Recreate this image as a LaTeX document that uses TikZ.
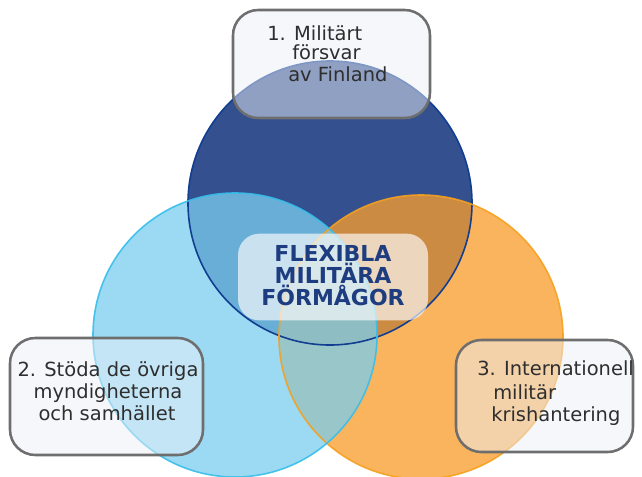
\documentclass[tikz,border=0pt]{standalone}
\usepackage{fontspec}
\setmainfont{DejaVu Sans}
\begin{document}
\begin{tikzpicture}[x=0.75pt,y=-0.75pt,
  circ/.style={circle,minimum size=213pt,inner sep=0pt},
  rim/.style={circle,minimum size=213pt,inner sep=0pt,line width=1.2pt},
  lbl/.style={font=\fontsize{14.6}{17}\selectfont,text=black!82,inner sep=0pt,anchor=base west},
  cbox/.style={draw=black!57,line width=1.9pt,rounded corners=19pt,fill=boxf,fill opacity=0.5},
  ctext/.style={font=\bfseries\fontsize{16.5}{19}\selectfont,text=ctr,inner sep=0pt,anchor=base}]
\definecolor{dblue}{RGB}{52,80,143}
\definecolor{dblueb}{RGB}{18,62,145}
\definecolor{lblue}{RGB}{122,206,238}
\definecolor{lblueb}{RGB}{55,190,235}
\definecolor{orng}{RGB}{249,158,45}
\definecolor{orngb}{RGB}{246,160,30}
\definecolor{ctr}{RGB}{30,60,128}
\definecolor{boxf}{RGB}{236,240,247}
\useasboundingbox (0,0) rectangle (642,476);
\node[circ,fill=dblue] (cf) at (330,203) {};
\node[circ,fill=orng,fill opacity=0.77] (ci) at (421,337) {};
\node[circ,fill=lblue,fill opacity=0.75] (cs) at (235,335) {};
\node[rim,draw=dblueb] (rf) at (cf) {};
\node[rim,draw=orngb,draw opacity=0.9] (ri) at (ci) {};
\node[rim,draw=lblueb,draw opacity=0.9] (rs) at (cs) {};
% center box
\node[fill=white,fill opacity=0.65,rounded corners=16pt,minimum width=142.5pt,minimum height=65pt] (mid) at (333,277) {};
\node[ctext] (m1) at (333,261) {FLEXIBLA};
\node[ctext] (m2) at (333,283) {MILITÄRA};
\node[ctext] (m3) at (333,305) {FÖRMÅGOR};
% boxes
\draw[cbox] (233,10) rectangle (430,118);
\node[lbl] (t1) at (267,40) {1. Militärt};
\node[lbl] (t2) at (292,59) {försvar};
\node[lbl] (t3) at (288,81) {av Finland};
\draw[cbox] (10,338) rectangle (203,455);
\node[lbl,anchor=base] (l1) at (108,376) {2. Stöda de övriga};
\node[lbl,anchor=base] (l2) at (108,398) {myndigheterna};
\node[lbl,anchor=base] (l3) at (107,420) {och samhället};
\draw[cbox] (456,340) rectangle (633,452);
\node[lbl] (r1) at (477,375) {3. Internationell};
\node[lbl] (r2) at (493,399) {militär};
\node[lbl] (r3) at (491,421) {krishantering};
\end{tikzpicture}
\end{document}
